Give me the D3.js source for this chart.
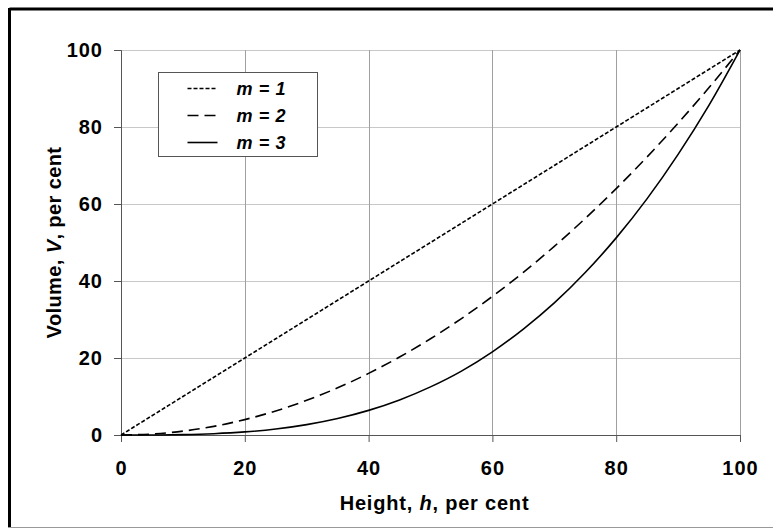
<!DOCTYPE html>
<html lang="en">
<head>
  <meta charset="UTF-8">
  <title>Volume vs height</title>
  <script src="https://d3js.org/d3.v7.min.js"></script>
  <style>
    body { margin: 0; background: #fff; }
    text { font-family: "Liberation Sans", Arial, sans-serif; font-weight: bold; }
  </style>
</head>
<body>
  <svg id="chart" width="773" height="529"></svg>
  <script>
    // data (per cent)
    const heights = [0, 5, 10, 15, 20, 25, 30, 35, 40, 45, 50, 55, 60, 65, 70, 75, 80, 85, 90, 95, 100];
    const volM1 = [0, 5, 10, 15, 20, 25, 30, 35, 40, 45, 50, 55, 60, 65, 70, 75, 80, 85, 90, 95, 100];
    const volM2 = [0, 0.25, 1, 2.25, 4, 6.25, 9, 12.25, 16, 20.25, 25, 30.25, 36, 42.25, 49, 56.25, 64, 72.25, 81, 90.25, 100];
    const volM3 = [0, 0.01, 0.1, 0.34, 0.8, 1.56, 2.7, 4.29, 6.4, 9.11, 12.5, 16.6, 21.6, 27.5, 34.3, 42.2, 51.2, 61.4, 72.9, 85.7, 100];
    const seriesNames = ['1', '2', '3'];
    const xTicks = [0, 20, 40, 60, 80, 100];
    const yTicks = [0, 20, 40, 60, 80, 100];

    const svg = d3.select('svg#chart');
    const margins = { top: 50, right: 33, bottom: 94, left: 121 };
    const chartWidth = 773 - margins.left - margins.right;
    const chartHeight = 529 - margins.top - margins.bottom;

    // outer frame: thick black left/top, thin gray bottom
    svg.append('line').attr('x1', 9.5).attr('x2', 773).attr('y1', 9).attr('y2', 9)
      .attr('stroke', '#000').style('stroke-width', 3);
    svg.append('line').attr('x1', 9.5).attr('x2', 9.5).attr('y1', 8).attr('y2', 528)
      .attr('stroke', '#000').style('stroke-width', 3);
    svg.append('line').attr('x1', 8).attr('x2', 773).attr('y1', 527.5).attr('y2', 527.5)
      .attr('stroke', '#999').style('stroke-width', 1);

    const chartArea = svg.append('g')
      .attr('transform', `translate(${margins.left},${margins.top})`);

    const xScale = d3.scaleLinear().domain([0, 100]).range([0, chartWidth]);
    const yScale = d3.scaleLinear().domain([0, 100]).range([chartHeight, 0]);

    // grid lines
    yTicks.forEach(t => {
      chartArea.append('line')
        .attr('x1', 0).attr('x2', chartWidth)
        .attr('y1', Math.round(yScale(t)) + 0.5).attr('y2', Math.round(yScale(t)) + 0.5)
        .attr('stroke', '#c8c8c8').style('stroke-width', 1);
    });
    xTicks.forEach(t => {
      chartArea.append('line')
        .attr('x1', Math.round(xScale(t)) + 0.5).attr('x2', Math.round(xScale(t)) + 0.5)
        .attr('y1', 0).attr('y2', chartHeight)
        .attr('stroke', '#a0a0a0').style('stroke-width', 1);
    });

    // axes
    const xAxis = chartArea.append('g')
      .attr('transform', `translate(0,${chartHeight})`)
      .call(d3.axisBottom(xScale).tickValues(xTicks).tickSize(7).tickPadding(19));
    const yAxis = chartArea.append('g')
      .call(d3.axisLeft(yScale).tickValues(yTicks).tickSize(7).tickPadding(11));
    [xAxis, yAxis].forEach(a => {
      a.select('.domain').attr('stroke', '#555');
      a.selectAll('.tick line').attr('stroke', '#555');
      a.selectAll('.tick text').attr('fill', '#000')
        .style('font-size', '20px').style('font-family', '"Liberation Sans", Arial, sans-serif')
        .style('font-weight', 'bold').style('letter-spacing', '1px');
    });

    // curves
    const dashes = ['4,2', '11,6', null];
    const lineGen = d3.line()
      .x(d => xScale(d[0]))
      .y(d => yScale(d[1]))
      .curve(d3.curveMonotoneX);
    [volM1, volM2, volM3].forEach((vals, i) => {
      const pts = heights.map((h, j) => [h, vals[j]]);
      chartArea.append('path')
        .datum(pts)
        .attr('d', lineGen)
        .attr('fill', 'none')
        .attr('stroke', '#000')
        .attr('stroke-dasharray', dashes[i])
        .style('stroke-width', 1.6);
    });

    // legend
    const legend = svg.append('g').attr('transform', 'translate(158.5,72.5)');
    legend.append('rect').attr('width', 159).attr('height', 84)
      .attr('fill', '#fff').attr('stroke', '#555').style('stroke-width', 1);
    seriesNames.forEach((m, i) => {
      const y = 16 + i * 27;
      legend.append('line').attr('x1', 29).attr('x2', 59).attr('y1', y).attr('y2', y)
        .attr('stroke', '#000').attr('stroke-dasharray', dashes[i]).style('stroke-width', 1.6);
      legend.append('text').attr('x', 78).attr('y', y + 6.5)
        .style('font-size', '18px').style('font-style', 'italic').style('letter-spacing', '0.6px')
        .text(`m = ${m}`);
    });

    // axis titles
    svg.append('text')
      .attr('x', margins.left + chartWidth / 2 + 4).attr('y', 510)
      .attr('text-anchor', 'middle').style('font-size', '20px').style('letter-spacing', '0.8px')
      .html('Height, <tspan font-style="italic">h</tspan>, per cent');
    svg.append('text')
      .attr('transform', `translate(61,${margins.top + chartHeight / 2}) rotate(-90)`)
      .attr('text-anchor', 'middle').style('font-size', '20px').style('letter-spacing', '0.4px')
      .html('Volume, <tspan font-style="italic">V</tspan>, per cent');
  </script>
</body>
</html>
